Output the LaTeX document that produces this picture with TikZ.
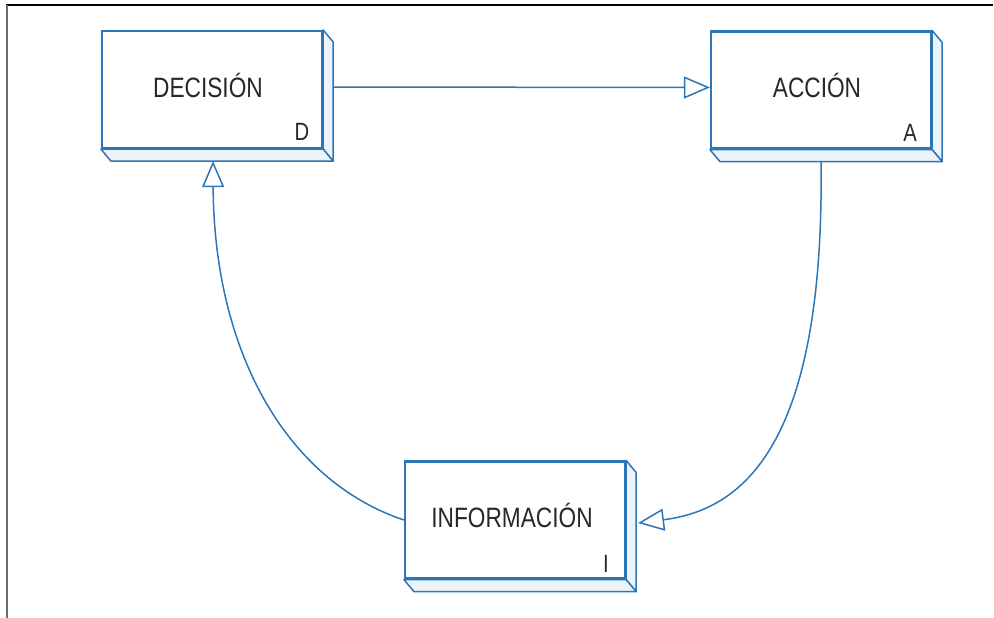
\documentclass[tikz,border=0pt]{standalone}
\usepackage{fontspec}
\setmainfont{Liberation Sans}[FakeStretch=0.81]
\usetikzlibrary{arrows.meta,calc,backgrounds}
\definecolor{boxblue}{RGB}{46,117,182}
\definecolor{sideblue}{RGB}{236,243,251}
\definecolor{inkgray}{RGB}{40,40,40}
% right and bottom faces of a 3D box drawn behind its front face
\newcommand\boxsides[1]{%
  \draw[side] (#1.north east) -- ++(10,12) -- ($(#1.south east)+(10,12)$) -- (#1.south east) -- cycle;
  \draw[side] (#1.south west) -- ++(10,12) -- ($(#1.south east)+(10,12)$) -- (#1.south east) -- cycle;}
\begin{document}
\begin{tikzpicture}[x=1pt,y=-1pt,
  front/.style={draw=boxblue,line width=2.2pt,fill=white,minimum width=220pt,minimum height=117pt,inner sep=0pt},
  side/.style={draw=boxblue,line width=1.5pt,fill=sideblue,line join=round},
  title/.style={text=inkgray,font=\fontsize{28}{30}\selectfont,anchor=base,inner sep=0pt},
  tag/.style={text=inkgray,font=\fontsize{25}{27}\selectfont,anchor=base,inner sep=0pt},
  link/.style={draw=boxblue,line width=1.5pt,-{Triangle[length=26pt,width=22pt,fill=white]}}]
\useasboundingbox (0,0) rectangle (994,618);
% frame
\draw[black,line width=1.6pt] (6,5) -- (993,5);
\draw[gray!85!black,line width=2pt] (7,5) -- (7,618);
% boxes
\node[front] (dbox) at (212,89.5) {};
\node[front] (abox) at (821,90) {};
\node[front] (ibox) at (515,520) {};
\boxsides{dbox}
\boxsides{abox}
\boxsides{ibox}
% texts
\node[title] (dname) at (208,97) {DECISIÓN};
\node[title] (aname) at (817,97) {ACCIÓN};
\node[title] (iname) at (512,527) {INFORMACIÓN};
\node[tag] (dtag) at (302,140) {D};
\node[tag] (atag) at (910,141) {A};
\node[tag] (itag) at (606,572) {I};
% connectors
\begin{pgfonlayer}{background}
\draw[link] ([yshift=2.5pt]dbox.east) -- ([yshift=2.5pt]abox.west);
\draw[link] ($(abox.south)+(0,11)$) .. controls (825,450) and (740,510) .. ($(ibox.east)+(12,3)$);
\draw[link] (ibox.west) .. controls (285,480) and (214,350) .. ($(dbox.south)+(1,12)$);
\end{pgfonlayer}
\end{tikzpicture}
\end{document}
